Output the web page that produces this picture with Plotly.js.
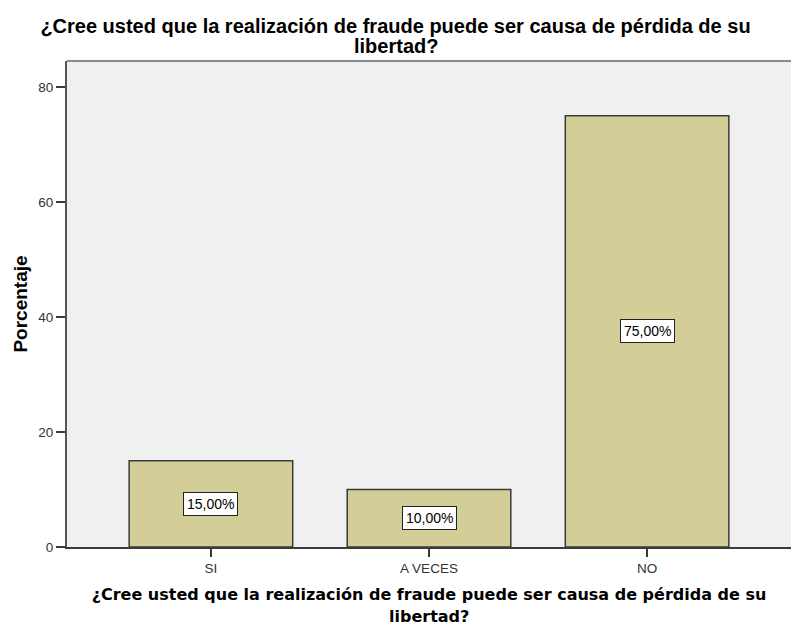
<!DOCTYPE html>
<html>
<head>
<meta charset="utf-8">
<script src="https://cdn.plot.ly/plotly-3.0.1.min.js"></script>
<style>html,body{margin:0;padding:0;background:#fff;}#chart{width:791px;height:625px;}</style>
</head>
<body>
<div id="chart"></div>
<script>
const categories = ["SI", "A VECES", "NO"];
const percentages = [15, 10, 75];
const labels = ["15,00%", "10,00%", "75,00%"];
const yTicks = [0, 20, 40, 60, 80];
const titleLine1 = "¿Cree usted que la realización de fraude puede ser causa de pérdida de su";
const titleLine2 = "libertad?";

const ARIAL = "Liberation Sans, Arial, sans-serif";

const trace = {
  type: "bar",
  x: categories,
  y: percentages,
  width: 0.75,
  marker: { color: "#d3ce98", line: { color: "#3a3a3a", width: 1.5 } },
  hoverinfo: "skip"
};

const annotations = categories.map((c, i) => ({
  x: c, y: percentages[i] / 2, xref: "x", yref: "y",
  text: labels[i], showarrow: false,
  font: { family: ARIAL, size: 14, color: "#000" },
  bgcolor: "#ffffff", bordercolor: "#222", borderwidth: 1, borderpad: 3
}));

// second line of the main title
annotations.push({
  xref: "paper", yref: "paper", x: (395.5 - 67) / 724, y: 1.0309,
  xanchor: "center", yanchor: "middle", showarrow: false,
  text: titleLine2,
  font: { family: ARIAL, size: 20, color: "#000", weight: "bold" }
});
// second line of the x-axis title
annotations.push({
  xref: "paper", yref: "paper", x: 0.5, y: -0.142,
  xanchor: "center", yanchor: "middle", showarrow: false,
  text: titleLine2,
  font: { family: "DejaVu Sans, sans-serif", size: 16, color: "#000", weight: "bold" }
});

const layout = {
  width: 791, height: 625,
  margin: { l: 67, r: 0, t: 61, b: 78 },
  paper_bgcolor: "#ffffff",
  plot_bgcolor: "#f0f0f0",
  showlegend: false,
  title: {
    text: titleLine1,
    font: { family: ARIAL, size: 20, color: "#000", weight: "bold" },
    x: 0.5, xanchor: "center", xref: "container",
    y: 1 - 26 / 625, yanchor: "middle", yref: "container",
    automargin: false
  },
  xaxis: {
    type: "category",
    range: [-0.66, 2.66],
    showline: true, linecolor: "#3a3a3a", linewidth: 2,
    ticks: "outside", ticklen: 8, tickcolor: "#3a3a3a", tickwidth: 1.5,
    ticklabelstandoff: 0,
    tickfont: { family: ARIAL, size: 13.5, color: "#333" },
    showgrid: false, zeroline: false,
    title: {
      text: titleLine1,
      font: { family: "DejaVu Sans, sans-serif", size: 16, color: "#000", weight: "bold" },
      standoff: 14
    }
  },
  yaxis: {
    range: [0, 84.5],
    tickvals: yTicks,
    ticktext: yTicks.map(String),
    showline: true, linecolor: "#555", linewidth: 2,
    ticks: "outside", ticklen: 9, tickcolor: "#3a3a3a", tickwidth: 1.5,
    tickfont: { family: ARIAL, size: 13.5, color: "#333" },
    showgrid: false, zeroline: false,
    title: {
      text: "Porcentaje",
      font: { family: ARIAL, size: 19, color: "#000", weight: "bold" },
      standoff: 6
    }
  },
  shapes: [
    { type: "line", xref: "paper", yref: "paper", x0: 0, x1: 1, y0: 1, y1: 1,
      line: { color: "#8a8a8a", width: 2 } }
  ],
  annotations: annotations
};

Plotly.newPlot("chart", [trace], layout, { displayModeBar: false, staticPlot: true });
</script>
</body>
</html>
